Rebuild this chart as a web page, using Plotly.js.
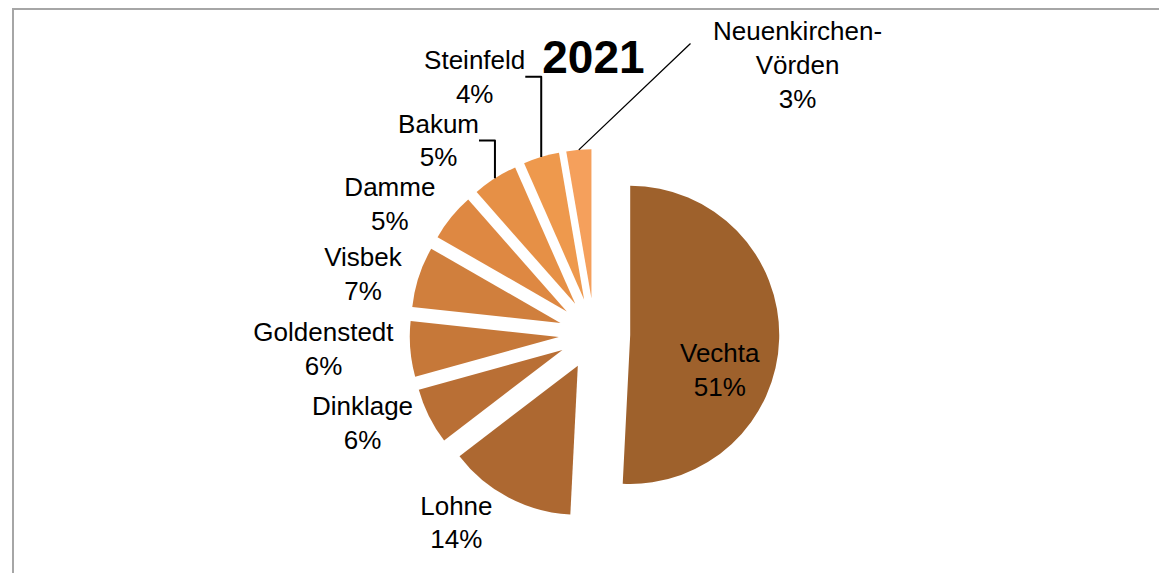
<!DOCTYPE html>
<html>
<head>
<meta charset="utf-8">
<script src="https://cdn.plot.ly/plotly-3.0.1.min.js"></script>
<style>
  html, body { margin: 0; padding: 0; background: #fff; }
  #wrap { position: relative; width: 1159px; height: 573px; overflow: hidden; }
  #chart { width: 1159px; height: 573px; }
  #frame { position: absolute; left: 12px; top: 8px; width: 1200px; height: 600px;
           border-left: 2px solid #A6A6A6; border-top: 2px solid #A6A6A6; pointer-events: none; }
</style>
</head>
<body>
<div id="wrap">
  <div id="chart"></div>
  <div id="frame"></div>
</div>
<script>
// Municipalities (categories) and their shares in 2021 (percent)
const categories = ['Vechta', 'Lohne', 'Dinklage', 'Goldenstedt', 'Visbek', 'Damme', 'Bakum', 'Steinfeld', 'Neuenkirchen-<br>Vörden'];
const shares = [50.8, 13.8, 6.1, 6.0, 6.6, 5.2, 4.9, 3.9, 2.7];
const sliceColors = ['#9E612C', '#AD6831', '#B96F35', '#C67839', '#D07F3D', '#DE8842', '#E69046', '#EE994D', '#F5A05C'];
const chartTitle = '2021';

const FONT = 'Arial, "Liberation Sans", sans-serif';
const W = 1159, H = 573;
const PULL = 0.24;
const dom = { x: [0.3129, 0.7129], y: [0.0946, 0.7396] };

// first slice label (inside) and last slice label (right, with leader) are drawn as annotations
const lastIdx = categories.length - 1;
const textPositions = categories.map((c, i) => (i === 0 || i === lastIdx) ? 'none' : 'outside');

const trace = {
  type: 'pie',
  labels: categories,
  values: shares,
  sort: false,
  direction: 'clockwise',
  rotation: 0,
  pull: categories.map(() => PULL),
  marker: { colors: sliceColors, line: { width: 0 } },
  texttemplate: '%{label}<br>%{percent:.0%}',
  textposition: textPositions,
  textfont: { family: FONT, size: 26, color: '#000' },
  outsidetextfont: { family: FONT, size: 26, color: '#000' },
  hoverinfo: 'label+percent',
  domain: dom,
  showlegend: false
};

// leader-line tip for the last slice, derived from the data and the pie geometry
const total = shares.reduce((a, b) => a + b, 0);
const before = shares.slice(0, lastIdx).reduce((a, b) => a + b, 0);
const midDeg = (before + shares[lastIdx] / 2) / total * 360;
const th = midDeg * Math.PI / 180;
const cx = (dom.x[0] + dom.x[1]) / 2 * W;
const cy = (1 - (dom.y[0] + dom.y[1]) / 2) * H;
const r = Math.min((dom.x[1] - dom.x[0]) * W / 2, (dom.y[1] - dom.y[0]) * H / 2) / (1 + PULL);
const tipX = cx + (1 + PULL) * r * Math.sin(th);
const tipY = cy - (1 + PULL) * r * Math.cos(th);
const elbow = { x: 692, y: 42 };
const pct = i => Math.round(shares[i] / total * 100) + '%';

const layout = {
  width: W,
  height: H,
  margin: { l: 0, r: 0, t: 0, b: 0 },
  paper_bgcolor: '#fff',
  title: {
    text: '<b>' + chartTitle + '</b>',
    x: 0.512, xanchor: 'center',
    y: 0.9, yanchor: 'middle',
    font: { family: FONT, size: 46, color: '#000' }
  },
  annotations: [
    {
      xref: 'paper', yref: 'paper',
      x: tipX / W, y: 1 - tipY / H,
      ax: elbow.x - tipX, ay: elbow.y - tipY,
      text: '\u00a0', font: { size: 1 },
      showarrow: true, arrowhead: 0, arrowwidth: 1.3, arrowcolor: '#000'
    },
    {
      xref: 'paper', yref: 'paper',
      x: 797 / W, y: 1 - 65 / H, xanchor: 'center', yanchor: 'middle',
      text: categories[lastIdx] + '<br>' + pct(lastIdx),
      align: 'center', showarrow: false,
      font: { family: FONT, size: 26, color: '#000' }
    },
    {
      xref: 'paper', yref: 'paper',
      x: 720 / W, y: 1 - 370 / H, xanchor: 'center', yanchor: 'middle',
      text: categories[0] + '<br>' + pct(0),
      align: 'center', showarrow: false,
      font: { family: FONT, size: 26, color: '#000' }
    }
  ],
  showlegend: false
};

Plotly.newPlot('chart', [trace], layout, { displayModeBar: false, staticPlot: true });
</script>
</body>
</html>
